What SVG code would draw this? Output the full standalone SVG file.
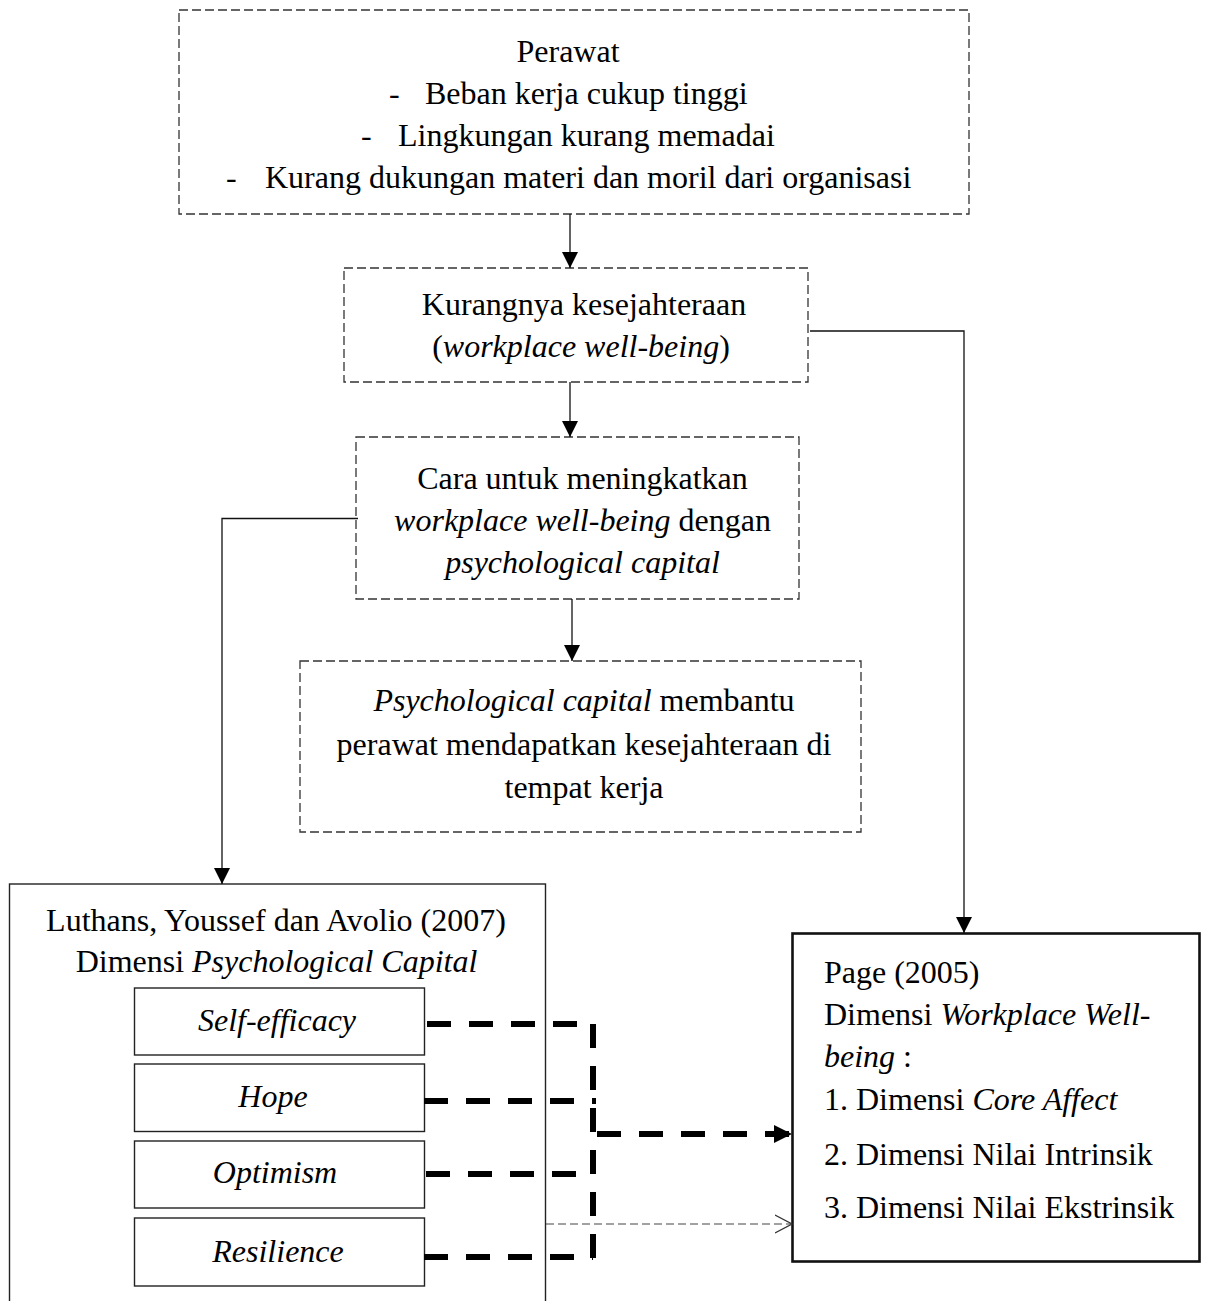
<svg xmlns="http://www.w3.org/2000/svg" width="1208" height="1301" viewBox="0 0 1208 1301">
<style>
  .t { font-family: "Liberation Serif", "Times New Roman", serif; font-size: 32px; fill: #000; }
  .c { text-anchor: middle; }
  .i { font-style: italic; }
  .dbox { fill: #fff; stroke: #333; stroke-width: 1.3; stroke-dasharray: 9 4; }
  .sbox { fill: #fff; stroke: #222; stroke-width: 1.4; }
  .pbox { fill: #fff; stroke: #111; stroke-width: 2.6; }
  .conn { fill: none; stroke: #111; stroke-width: 1.3; }
  .thick { fill: none; stroke: #000; stroke-width: 6; stroke-dasharray: 24 18; }
  .thin { fill: none; stroke: #444; stroke-width: 1.2; stroke-dasharray: 8 4; }
</style>
<defs>
  <marker id="arr" markerUnits="userSpaceOnUse" markerWidth="16" markerHeight="16" refX="16" refY="8" orient="auto">
    <path d="M0,0 L16,8 L0,16 Z" fill="#000"/>
  </marker>
  <marker id="arrBig" markerUnits="userSpaceOnUse" markerWidth="18" markerHeight="18" refX="18" refY="9" orient="auto">
    <path d="M0,0 L18,9 L0,18 Z" fill="#000"/>
  </marker>
  <marker id="arrOpen" markerUnits="userSpaceOnUse" markerWidth="18" markerHeight="20" refX="17" refY="10" orient="auto">
    <path d="M0,1 L17,10 L0,19" fill="none" stroke="#333" stroke-width="1.2"/>
  </marker>
</defs>

<g id="node-perawat">
  <rect class="dbox" x="179" y="10" width="790" height="204"/>
  <text class="t c" x="568" y="62">Perawat</text>
  <text class="t" x="389" y="104">-</text>
  <text class="t" x="425" y="104">Beban kerja cukup tinggi</text>
  <text class="t" x="361" y="146">-</text>
  <text class="t" x="398" y="146">Lingkungan kurang memadai</text>
  <text class="t" x="226" y="188">-</text>
  <text class="t" x="265" y="188">Kurang dukungan materi dan moril dari organisasi</text>
</g>

<g id="node-kurangnya">
  <rect class="dbox" x="344" y="268" width="464" height="114"/>
  <text class="t c" x="584" y="315">Kurangnya kesejahteraan</text>
  <text class="t c" x="581" y="357">(<tspan class="i">workplace well-being</tspan>)</text>
</g>

<g id="node-cara">
  <rect class="dbox" x="356" y="437" width="443" height="162"/>
  <text class="t c" x="582.5" y="489">Cara untuk meningkatkan</text>
  <text class="t c" x="582.5" y="531"><tspan class="i">workplace well-being</tspan> dengan</text>
  <text class="t c i" x="582.5" y="573">psychological capital</text>
</g>

<g id="node-membantu">
  <rect class="dbox" x="300" y="661" width="561" height="171"/>
  <text class="t c" x="584" y="711"><tspan class="i">Psychological capital</tspan> membantu</text>
  <text class="t c" x="584" y="755">perawat mendapatkan kesejahteraan di</text>
  <text class="t c" x="584" y="798">tempat kerja</text>
</g>

<g id="node-luthans">
  <rect class="sbox" x="9.5" y="884" width="536" height="440"/>
  <text class="t c" x="276" y="931">Luthans, Youssef dan Avolio (2007)</text>
  <text class="t c" x="276.5" y="972">Dimensi <tspan class="i">Psychological Capital</tspan></text>
</g>

<g id="node-self-efficacy">
  <rect class="sbox" x="134.5" y="988" width="290" height="67"/>
  <text class="t c i" x="277" y="1031">Self-efficacy</text>
</g>
<g id="node-hope">
  <rect class="sbox" x="134.5" y="1064" width="290" height="67.5"/>
  <text class="t c i" x="273" y="1107">Hope</text>
</g>
<g id="node-optimism">
  <rect class="sbox" x="134.5" y="1141" width="290" height="67"/>
  <text class="t c i" x="275" y="1183">Optimism</text>
</g>
<g id="node-resilience">
  <rect class="sbox" x="134.5" y="1218" width="290" height="68"/>
  <text class="t c i" x="278" y="1262">Resilience</text>
</g>

<g id="node-page">
  <rect class="pbox" x="792.5" y="933.5" width="407" height="328"/>
  <text class="t" x="824" y="983">Page (2005)</text>
  <text class="t" x="824" y="1025">Dimensi <tspan class="i">Workplace Well-</tspan></text>
  <text class="t" x="824" y="1067"><tspan class="i">being</tspan> :</text>
  <text class="t" x="824" y="1110">1. Dimensi <tspan class="i">Core Affect</tspan></text>
  <text class="t" x="824" y="1165">2. Dimensi Nilai Intrinsik</text>
  <text class="t" x="824" y="1218">3. Dimensi Nilai Ekstrinsik</text>
</g>

<g id="connectors">
  <path class="conn" d="M570,214 V268" marker-end="url(#arr)"/>
  <path class="conn" d="M570,382 V437" marker-end="url(#arr)"/>
  <path class="conn" d="M572,599 V661" marker-end="url(#arr)"/>
  <path class="conn" d="M358,518.5 H222 V884" marker-end="url(#arr)"/>
  <path class="conn" d="M810,331 H964 V933" marker-end="url(#arr)"/>

  <path class="thick" d="M427,1024 H593"/>
  <path class="thick" d="M424,1101 H596"/>
  <path class="thick" d="M426,1174 H593"/>
  <path class="thick" d="M424,1257 H593"/>
  <path class="thick" d="M593,1024 V1258"/>
  <path class="thick" d="M597,1134 H792" marker-end="url(#arrBig)"/>

  <path class="thin" d="M546,1224 H792" marker-end="url(#arrOpen)"/>
</g>
</svg>
